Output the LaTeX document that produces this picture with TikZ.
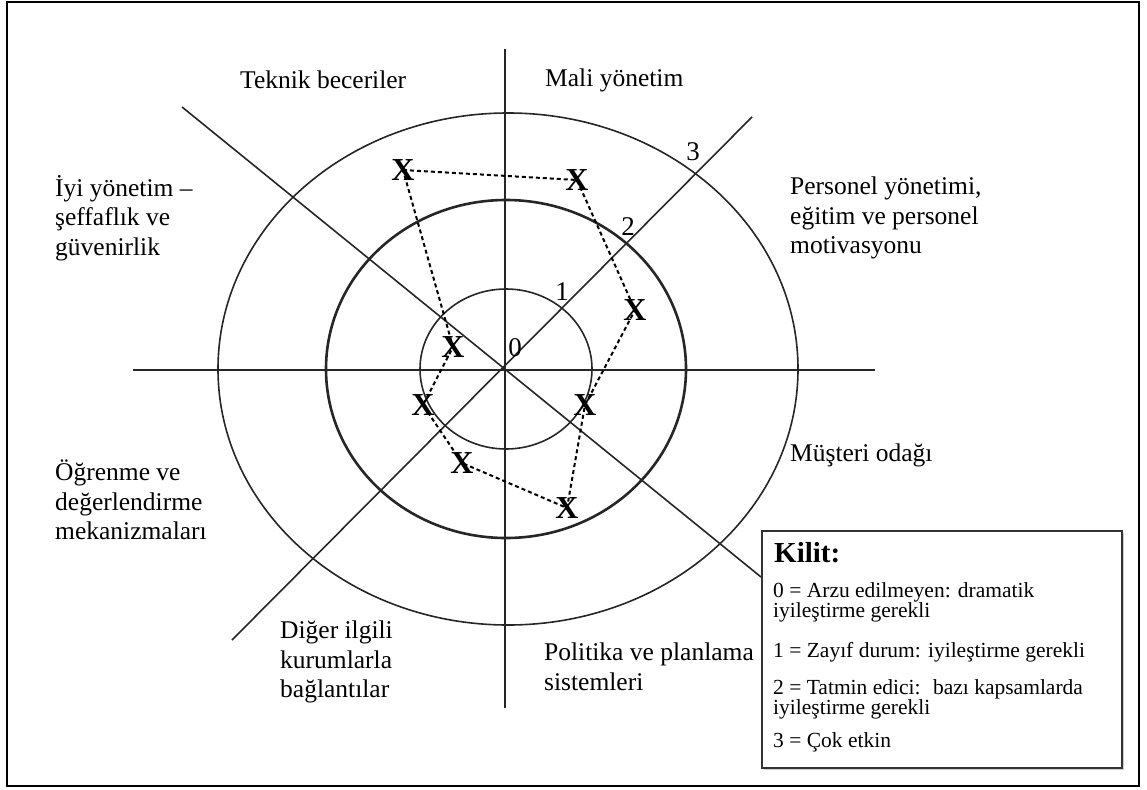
\documentclass[tikz,border=0pt]{standalone}
\usepackage{fontspec}
\setmainfont{Liberation Serif}
\usetikzlibrary{shadows}
\begin{document}
\begin{tikzpicture}[x=1pt, y=-1pt, every node/.style={inner sep=0pt},
    lbl/.style={anchor=west, align=left, font=\fontsize{25.5}{29.5}\selectfont},
    num/.style={font=\fontsize{27}{30}\selectfont},
    xmark/.style={font=\fontsize{32}{34}\selectfont\bfseries},
    key/.style={anchor=west, align=left, font=\fontsize{21.5}{20}\selectfont}]
    \useasboundingbox (0,0) rectangle (1147,789);
    % Frame
    \draw[line width=2.8pt] (7,2) rectangle (1139,786);

    % Axes and rings
    \draw[line width=1.6pt, black!85] (133,370) -- (875,370);
    \draw[line width=1.6pt, black!85] (505,49) -- (505,708);
    \draw[line width=1.6pt, black!85] (232,640) -- (752,117);
    \draw[line width=1.6pt, black!85] (182,107) -- (761,577);
    \draw[line width=1.6pt, black!85] (506,369) ellipse [x radius=86, y radius=80];
    \draw[line width=2.6pt, black!85] (506,369) ellipse [x radius=180, y radius=169];
    \draw[line width=1.6pt, black!85] (508,369) ellipse [x radius=290, y radius=256];

    \node[num] (n0) at (515,348) {0};
    \node[num] (n1) at (562,292) {1};
    \node[num] (n2) at (628,227) {2};
    \node[num] (n3) at (693,152) {3};

    % Area labels
    \node[lbl] (teknik) at (240,80) {Teknik beceriler};
    \node[lbl] (mali) at (545,80) {Mali yönetim};
    \node[lbl] (iyi) at (55,218) {İyi yönetim –\\şeffaflık ve\\güvenirlik};
    \node[lbl] (personel) at (790,218) {Personel yönetimi,\\eğitim ve personel\\motivasyonu};
    \node[lbl] (musteri) at (790,455) {Müşteri odağı};
    \node[lbl] (ogrenme) at (55,500) {Öğrenme ve\\değerlendirme\\mekanizmaları};
    \node[lbl] (diger) at (280,662) {Diğer ilgili\\kurumlarla\\bağlantılar};
    \node[lbl] (politika) at (544,667) {Politika ve planlama\\sistemleri};

    % Scores
    \node[xmark] (xa) at (403,170) {X};
    \node[xmark] (xb) at (577,180) {X};
    \node[xmark] (xc) at (635,310) {X};
    \node[xmark] (xd) at (585,405) {X};
    \node[xmark] (xe) at (567,508) {X};
    \node[xmark] (xf) at (462,463) {X};
    \node[xmark] (xg) at (423,405) {X};
    \node[xmark] (xh) at (453,347) {X};
    \draw[line width=2pt, dash pattern=on 4pt off 3pt] (xa.center) -- (xb.center) -- (xc.center) -- (xd.center) -- (xe.center) -- (xf.center) -- (xg.center) -- (xh.center) -- (xa.center);

    % Key
    \node[draw=black!80, line width=1.5pt, fill=white, drop shadow={shadow xshift=2pt, shadow yshift=-2pt, fill=black!40}, anchor=north west, minimum width=360pt, minimum height=237pt] (kilit) at (761,530) {};
    \node[anchor=west, font=\fontsize{29}{30}\selectfont\bfseries] (kt) at (774,553) {Kilit:};
    \node[key] (k0) at (773,602) {0 = Arzu edilmeyen: dramatik\\iyileştirme gerekli};
    \node[key] (k1) at (773,652) {1 = Zayıf durum: iyileştirme gerekli};
    \node[key] (k2) at (773,699) {2 = Tatmin edici:~ bazı kapsamlarda\\iyileştirme gerekli};
    \node[key] (k3) at (773,742) {3 = Çok etkin};
\end{tikzpicture}
\end{document}
